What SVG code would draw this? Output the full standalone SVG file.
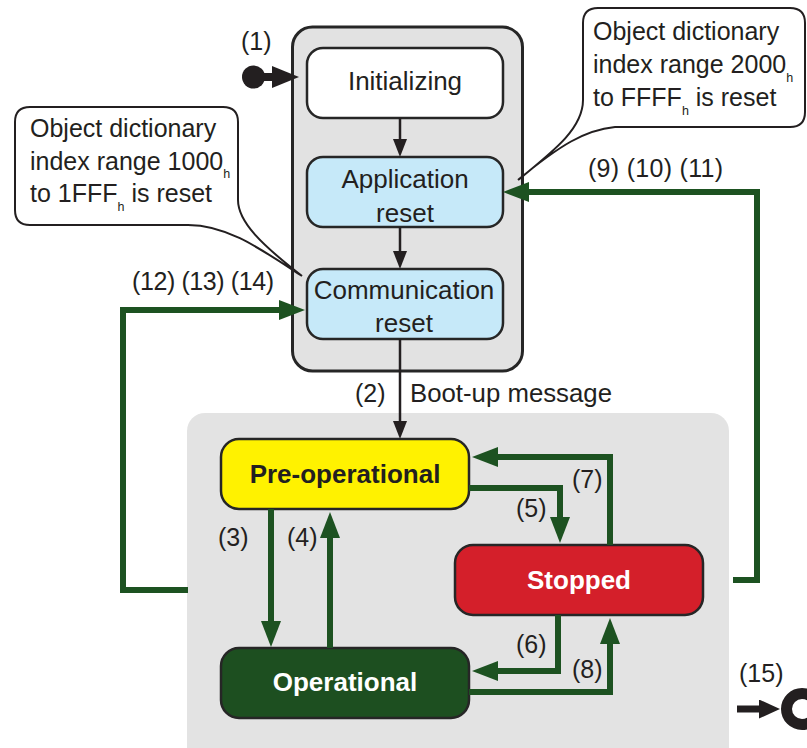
<svg xmlns="http://www.w3.org/2000/svg" width="807" height="748" viewBox="0 0 807 748">
<defs>
<style>
text{font-family:"Liberation Sans",Arial,sans-serif;fill:#231f20}
tspan{fill:#231f20}
.lbl{font-size:25px}
.node{font-size:26px}
.call{font-size:25px}
.sub{font-size:12.5px}
.bold{font-size:26px;font-weight:bold}
.box{stroke:#262626;stroke-width:2.5}
.g{fill:none;stroke:#1d5221;stroke-width:6;stroke-linejoin:miter}
.k{fill:none;stroke:#231f20;stroke-width:2.5}
</style>
<marker id="ga" markerUnits="userSpaceOnUse" markerWidth="26" markerHeight="20" viewBox="0 0 26 20" refX="8" refY="10" orient="auto"><path d="M0,0 L26,10 L0,20 z" fill="#1d5221"/></marker>
<marker id="ka" markerUnits="userSpaceOnUse" markerWidth="18" markerHeight="14" viewBox="0 0 18 14" refX="4" refY="7" orient="auto"><path d="M0,0 L18,7 L0,14 z" fill="#231f20"/></marker>
<marker id="sa" markerUnits="userSpaceOnUse" markerWidth="27" markerHeight="22" viewBox="0 0 27 22" refX="4" refY="11" orient="auto"><path d="M0,0 L27,11 L0,22 z" fill="#231f20"/></marker>
<marker id="ea" markerUnits="userSpaceOnUse" markerWidth="21" markerHeight="19" viewBox="0 0 21 19" refX="4" refY="9.5" orient="auto"><path d="M0,0 L21,9.5 L0,19 z" fill="#231f20"/></marker>
</defs>
<rect width="807" height="748" fill="#ffffff"/>

<g id="reset-group">
<rect x="292.5" y="27" width="230" height="344" rx="20" fill="#e2e2e2" stroke="#262626" stroke-width="3"/>
</g>
<g id="nmt-group">
<rect x="187" y="413" width="542" height="360" rx="18" fill="#e3e3e3"/>
</g>

<g id="initializing">
<rect class="box" x="307" y="48" width="196" height="70" rx="16" fill="#ffffff"/>
<text class="node" x="405" y="90" text-anchor="middle">Initializing</text>
</g>
<g id="application-reset">
<rect class="box" x="307" y="157" width="196" height="70" rx="16" fill="#c6e9f9"/>
<text class="node" x="405" y="188" text-anchor="middle">Application</text>
<text class="node" x="405" y="222" text-anchor="middle">reset</text>
</g>
<g id="communication-reset">
<rect class="box" x="307" y="269" width="196" height="70" rx="16" fill="#c6e9f9"/>
<text class="node" x="404" y="299" text-anchor="middle">Communication</text>
<text class="node" x="404" y="332" text-anchor="middle">reset</text>
</g>
<g id="pre-operational">
<rect class="box" x="221" y="439" width="248" height="70" rx="18" fill="#fff200"/>
<text class="bold" x="345" y="483" text-anchor="middle">Pre-operational</text>
</g>
<g id="operational">
<rect class="box" x="221" y="648" width="248" height="70" rx="18" fill="#1d4f20"/>
<text class="bold" x="345" y="691" text-anchor="middle" style="fill:#ffffff">Operational</text>
</g>
<g id="stopped">
<rect class="box" x="455" y="545" width="248" height="70" rx="18" fill="#d41f2a"/>
<text class="bold" x="579" y="589" text-anchor="middle" style="fill:#ffffff">Stopped</text>
</g>

<g id="start">
<circle cx="253.5" cy="77" r="11.5" fill="#231f20"/>
</g>
<g id="end">
<circle cx="802" cy="709" r="15.5" fill="none" stroke="#231f20" stroke-width="11"/>
</g>

<g id="connectors">
<path d="M253,77 H276" fill="none" stroke="#231f20" stroke-width="8" marker-end="url(#sa)"/>
<path d="M737,709 H763" fill="none" stroke="#231f20" stroke-width="7" marker-end="url(#ea)"/>
<path class="k" d="M400,118 V143" marker-end="url(#ka)"/>
<path class="k" d="M400,227 V255" marker-end="url(#ka)"/>
<path class="k" d="M400,339 V425" marker-end="url(#ka)"/>
<path class="g" d="M271,509 V629" marker-end="url(#ga)"/>
<path class="g" d="M330,648 V530" marker-end="url(#ga)"/>
<path class="g" d="M469,488 H560 V525" marker-end="url(#ga)"/>
<path class="g" d="M610,545 V457 H490" marker-end="url(#ga)"/>
<path class="g" d="M558,615 V671 H490" marker-end="url(#ga)"/>
<path class="g" d="M469,692 H610 V636" marker-end="url(#ga)"/>
<path class="g" d="M733,580 H757 V192 H521" marker-end="url(#ga)"/>
<path class="g" d="M188,590 H123 V310 H287" marker-end="url(#ga)"/>
</g>

<g id="labels">
<text class="lbl" x="241" y="50">(1)</text>
<text class="lbl" x="355" y="402">(2)</text>
<text class="lbl" x="410" y="402" textLength="202" lengthAdjust="spacingAndGlyphs">Boot-up message</text>
<text class="lbl" x="218" y="546">(3)</text>
<text class="lbl" x="287" y="546">(4)</text>
<text class="lbl" x="516" y="517">(5)</text>
<text class="lbl" x="572" y="488">(7)</text>
<text class="lbl" x="516" y="653">(6)</text>
<text class="lbl" x="572" y="678">(8)</text>
<text class="lbl" x="739" y="682">(15)</text>
<text class="lbl" x="588" y="177" textLength="135" lengthAdjust="spacing">(9) (10) (11)</text>
<text class="lbl" x="132" y="290" textLength="142" lengthAdjust="spacing">(12) (13) (14)</text>
</g>

<g id="callout-left">
<path d="M30,107 H223 Q238,107 238,122 V200 C238,222 262,245 302,276 C262,250 228,225 188,225 H30 Q15,225 15,210 V122 Q15,107 30,107 Z" fill="#ffffff" stroke="#231f20" stroke-width="2"/>
<text class="call" x="30" y="137">Object dictionary</text>
<text class="call" x="30" y="170">index range 1000<tspan class="sub" dy="8">h</tspan></text>
<text class="call" x="30" y="202">to 1FFF<tspan class="sub" dy="9">h</tspan><tspan dy="-9"> is reset</tspan></text>
</g>
<g id="callout-right">
<path d="M598,8 H790 Q805,8 805,23 V112 Q805,127 790,127 H615 C585,130 560,145 518,180 C555,150 583,128 583,100 V23 Q583,8 598,8 Z" fill="#ffffff" stroke="#231f20" stroke-width="2"/>
<text class="call" x="593" y="40">Object dictionary</text>
<text class="call" x="593" y="73">index range 2000<tspan class="sub" dy="9">h</tspan></text>
<text class="call" x="593" y="106">to FFFF<tspan class="sub" dy="9">h</tspan><tspan dy="-9"> is reset</tspan></text>
</g>
</svg>
